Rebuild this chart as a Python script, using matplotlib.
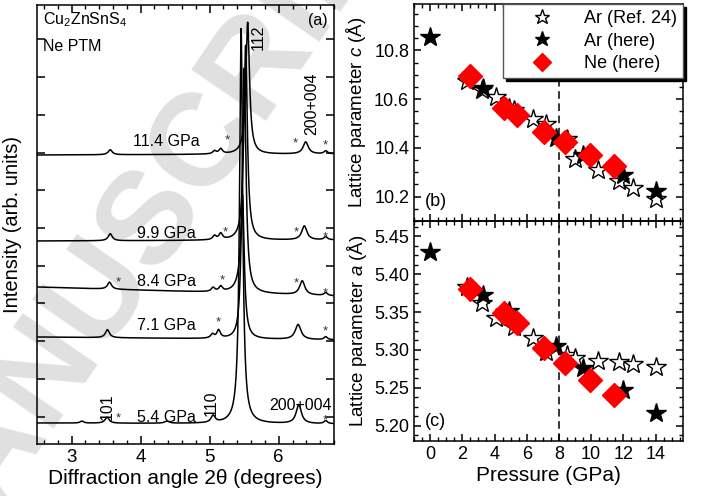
import numpy as np
import matplotlib
matplotlib.use('Agg')
import matplotlib.pyplot as plt
from matplotlib.ticker import MultipleLocator, NullFormatter, FormatStrFormatter

plt.rcParams['font.family'] = ['Liberation Sans', 'DejaVu Sans']
plt.rcParams['mathtext.fontset'] = 'custom'
plt.rcParams['mathtext.rm'] = 'Liberation Sans'
plt.rcParams['mathtext.it'] = 'Liberation Sans:italic'
plt.rcParams['axes.linewidth'] = 1.1

# --- (a) diffraction patterns, stacked, arbitrary units ---
trace_labels = ['5.4 GPa', '7.1 GPa', '8.4 GPa', '9.9 GPa', '11.4 GPa']
base_left = [21, 107, 157, 203, 289]
base_right = [20, 104, 148, 204, 290]
# peaks per pattern: (2theta, height, half width)
peaks_54 = [(3.15, 2, 0.03), (3.515, 6, 0.035), (4.38, 2, 0.04), (5.05, 7, 0.035),
            (5.455, 395, 0.027), (6.29, 19, 0.045), (6.68, 3, 0.03)]
peaks_71 = [(3.52, 8, 0.035), (5.04, 4, 0.03), (5.13, 8, 0.03),
            (5.475, 144, 0.03), (6.28, 15, 0.05), (6.68, 3, 0.03)]
peaks_84 = [(3.55, 7, 0.035), (5.05, 4, 0.03), (5.16, 5, 0.03),
            (5.50, 225, 0.03), (6.34, 14, 0.045), (6.68, 3, 0.03)]
peaks_99 = [(3.56, 7, 0.035), (5.07, 4, 0.03), (5.16, 6, 0.03),
            (5.52, 195, 0.03), (6.37, 14, 0.045), (6.68, 3, 0.03)]
peaks_114 = [(3.56, 5, 0.035), (5.07, 3, 0.03), (5.16, 5, 0.03),
             (5.55, 132, 0.032), (6.39, 12, 0.045), (6.68, 3, 0.03)]
trace_peaks = [peaks_54, peaks_71, peaks_84, peaks_99, peaks_114]
label_y = [27, 118, 163, 211, 302]
# impurity (*) markers: (2theta, height)
stars_x = [3.67, 6.68, 5.13, 6.68, 3.68, 5.18, 6.25, 6.68, 5.23, 6.26, 6.68, 5.25, 6.24, 6.68]
stars_y = [26, 24, 122, 113, 162, 164, 161, 151, 212, 212, 207, 304, 301, 299]

# --- (b), (c) lattice parameters vs pressure ---
p_ref = [2.3, 3.2, 4.1, 5.2, 6.4, 7.2, 8.5, 9.0, 10.4, 11.7, 12.6, 14.0]
c_ref = [10.675, 10.637, 10.61, 10.555, 10.518, 10.499, 10.436, 10.355, 10.311, 10.264, 10.237, 10.189]
a_ref = [5.383, 5.3615, 5.3416, 5.33, 5.3164, 5.297, 5.294, 5.290, 5.286, 5.284, 5.281, 5.277]

p_ar = [0.0, 3.3, 4.9, 7.8, 9.5, 12.0, 14.0]
c_ar = [10.855, 10.645, 10.565, 10.44, 10.37, 10.29, 10.223]
a_ar = [5.429, 5.373, 5.352, 5.305, 5.276, 5.247, 5.217]

p_ne = [2.5, 4.6, 5.4, 7.1, 8.4, 9.9, 11.4]
c_ne = [10.694, 10.563, 10.535, 10.463, 10.422, 10.372, 10.325]
a_ne = [5.381, 5.349, 5.336, 5.302, 5.283, 5.260, 5.241]

p_transition = 8.0


def pattern(tt, b0, b1, peaks):
    y = b0 + (b1 - b0) * (tt - tt[0]) / (tt[-1] - tt[0])
    for pos, h, g in peaks:
        y = y + h * g**2 / ((tt - pos)**2 + g**2)
    return y


fig = plt.figure(figsize=(7.04, 4.96), dpi=100)
fig.patch.set_facecolor('white')

fig.text(150 / 704, 1 - 215 / 496, 'MANUSCRIPT', rotation=55.5, fontsize=95,
         fontweight='bold', color='#e0e0e0', ha='center', va='center', zorder=-5)

ax = fig.add_axes([37 / 704, 52 / 496, 297 / 704, 439 / 496])
ax.set_facecolor('none')
tt = np.linspace(2.5, 6.8, 3000)
for lab, b0, b1, pk, ly in zip(trace_labels, base_left, base_right, trace_peaks, label_y):
    ax.plot(tt, pattern(tt, b0, b1, pk), color='black', lw=1.1)
    ax.text(4.37, ly, lab, fontsize=11.5, ha='center', va='center')
for sx, sy in zip(stars_x, stars_y):
    ax.text(sx, sy, '*', fontsize=9.5, ha='center', va='center', color='#333333')

ax.text(5.70, 407, '112', rotation=90, fontsize=11.5, ha='center', va='center')
ax.text(6.48, 340, '200+004', rotation=90, fontsize=11.5, ha='center', va='center')
ax.text(3.52, 37, '101', rotation=90, fontsize=11.5, ha='center', va='center')
ax.text(5.03, 41, '110', rotation=90, fontsize=11.5, ha='center', va='center')
ax.text(6.31, 39, '200+004', fontsize=11.5, ha='center', va='center')
ax.text(0.02, 0.955, 'Cu$_2$ZnSnS$_4$', transform=ax.transAxes, fontsize=11.5)
ax.text(0.02, 0.895, 'Ne PTM', transform=ax.transAxes, fontsize=11.5)
ax.text(0.945, 0.955, '(a)', transform=ax.transAxes, fontsize=11.5, ha='center')

ax.set_xlim(2.5, 6.8)
ax.set_ylim(0, 439)
ax.xaxis.set_major_locator(MultipleLocator(1))
ax.xaxis.set_minor_locator(MultipleLocator(0.2))
ax.yaxis.set_major_locator(MultipleLocator(37.7, offset=27.5))
ax.yaxis.set_major_formatter(NullFormatter())
ax.tick_params(which='both', direction='in', top=True, right=True, labelsize=13.5)
ax.tick_params(which='major', length=6, width=1.1)
ax.tick_params(which='minor', length=3, width=1.0)
ax.set_xlabel('Diffraction angle 2θ (degrees)', fontsize=15, labelpad=2)
ax.set_ylabel('Intensity (arb. units)', fontsize=14.5, labelpad=7)

axb = fig.add_axes([414 / 704, 275 / 496, 269 / 704, 217 / 496])
axc = fig.add_axes([414 / 704, 55 / 496, 269 / 704, 220 / 496], sharex=axb)

for a, yref, yar, yne in [(axb, c_ref, c_ar, c_ne), (axc, a_ref, a_ar, a_ne)]:
    a.set_facecolor('none')
    a.axvline(p_transition, color='black', ls=(0, (5, 3)), lw=1.1, zorder=1)
    a.plot(p_ref, yref, ls='none', marker='*', ms=15, mfc='white', mec='black',
           mew=1.0, label='Ar (Ref. 24)', zorder=2)
    a.plot(p_ar, yar, ls='none', marker='*', ms=15, mfc='black', mec='black',
           label='Ar (here)', zorder=3)
    a.plot(p_ne, yne, ls='none', marker='D', ms=12, mfc='red', mec='red',
           label='Ne (here)', zorder=4)
    a.tick_params(which='both', direction='in', top=True, right=True, labelsize=13)
    a.tick_params(which='major', length=5, width=1.1)
    a.tick_params(which='minor', length=3, width=1.0)

axb.set_xlim(-1, 15.7)
axb.xaxis.set_major_locator(MultipleLocator(2))
axb.xaxis.set_minor_locator(MultipleLocator(0.5))
axb.set_ylim(10.1, 10.99)
axb.yaxis.set_major_locator(MultipleLocator(0.2))
axb.yaxis.set_minor_locator(MultipleLocator(0.05))
axb.tick_params(labelbottom=False)
axb.set_ylabel('Lattice parameter $\\it{c}$ (Å)', fontsize=13.5, labelpad=4)
axb.text(0.04, 0.07, '(b)', transform=axb.transAxes, fontsize=13)

axc.set_ylim(5.18, 5.47)
axc.yaxis.set_major_locator(MultipleLocator(0.05))
axc.yaxis.set_minor_locator(MultipleLocator(0.0125))
axc.yaxis.set_major_formatter(FormatStrFormatter('%.2f'))
axc.set_ylabel('Lattice parameter $\\it{a}$ (Å)', fontsize=13.5, labelpad=4)
axc.set_xlabel('Pressure (GPa)', fontsize=15, labelpad=2)
axc.text(0.04, 0.07, '(c)', transform=axc.transAxes, fontsize=13)

leg = axb.legend(loc='upper right', fontsize=13, frameon=True, fancybox=False,
                 shadow={'color': 'black', 'alpha': 1.0}, borderaxespad=0,
                 handletextpad=0.5, markerscale=0.75, borderpad=0.35,
                 labelspacing=0.3, handlelength=3.6)
leg.get_frame().set_edgecolor('#555555')
leg.get_frame().set_linewidth(1.0)

fig.savefig('out.png', dpi=100)
